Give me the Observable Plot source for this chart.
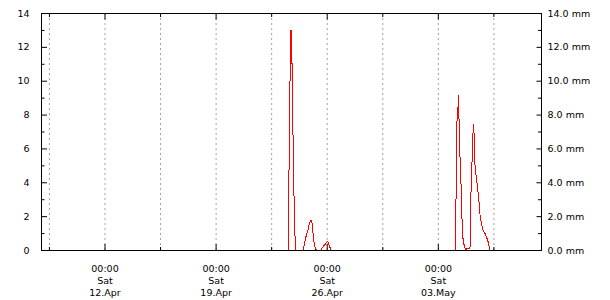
<!DOCTYPE html>
<html><head><meta charset="utf-8">
<script src="https://cdn.jsdelivr.net/npm/d3@7"></script>
<script src="https://cdn.jsdelivr.net/npm/@observablehq/plot@0.6"></script>
<style>html,body{margin:0;padding:0;background:#fff} svg{display:block}</style>
</head><body><div id="chart"></div>
<script>
// rain time series (UTC); null breaks the line
const times = [
  "2025-04-23T12:00Z","2025-04-23T13:00Z","2025-04-23T13:30Z","2025-04-23T14:45Z","2025-04-23T16:00Z",
  "2025-04-23T17:15Z","2025-04-23T18:15Z","2025-04-23T19:00Z","2025-04-23T19:45Z","2025-04-23T21:00Z",
  "2025-04-23T22:30Z","2025-04-24T00:00Z","2025-04-24T01:00Z","2025-04-24T11:45Z",
  "2025-04-24T14:15Z","2025-04-24T16:45Z","2025-04-24T19:15Z","2025-04-24T20:45Z","2025-04-24T22:45Z",
  "2025-04-25T00:20Z","2025-04-25T01:50Z","2025-04-25T02:50Z","2025-04-25T04:20Z","2025-04-25T05:50Z",
  "2025-04-25T07:55Z","2025-04-25T14:00Z",
  "2025-04-25T18:00Z","2025-04-25T21:30Z","2025-04-26T00:30Z","2025-04-26T02:30Z","2025-04-26T06:00Z",
  "2025-04-30T00:00Z",
  "2025-05-04T02:15Z","2025-05-04T02:30Z","2025-05-04T03:00Z","2025-05-04T03:45Z","2025-05-04T05:30Z",
  "2025-05-04T06:00Z","2025-05-04T06:45Z","2025-05-04T07:30Z","2025-05-04T08:20Z","2025-05-04T10:20Z",
  "2025-05-04T11:50Z","2025-05-04T13:20Z","2025-05-04T14:50Z","2025-05-04T16:50Z","2025-05-04T19:00Z",
  "2025-05-04T23:50Z",
  "2025-05-05T00:30Z","2025-05-05T01:00Z","2025-05-05T02:30Z","2025-05-05T04:00Z","2025-05-05T05:00Z",
  "2025-05-05T06:00Z","2025-05-05T07:30Z","2025-05-05T10:05Z","2025-05-05T12:35Z","2025-05-05T15:05Z",
  "2025-05-05T17:40Z","2025-05-05T20:10Z","2025-05-05T22:40Z","2025-05-06T00:10Z","2025-05-06T02:10Z",
  "2025-05-06T03:45Z","2025-05-06T05:15Z","2025-05-06T06:15Z"
];
const rain = [
  0, 0, 2.1, 6.5, 10.9,
  13.0, 11.4, 10.9, 8.2, 5.0,
  1.7, 0.2, 0, 0,
  0.55, 0.95, 1.25, 1.55, 1.8,
  1.8, 1.45, 0.85, 0.45, 0.15,
  0, 0,
  0.25, 0.4, 0.55, 0.35, 0,
  null,
  0, 1.5, 4.5, 7.6, 7.7,
  9.15, 8.1, 7.6, 6.0, 3.9,
  1.85, 0.7, 0.35, 0.05, 0.1,
  0.1,
  1.0, 2.9, 4.7, 6.5, 7.45,
  6.9, 5.0, 4.1, 3.3, 2.1,
  1.5, 1.14, 1.0, 0.85, 0.65,
  0.45, 0.16, 0
];
const xDomain = ["2025-04-08T00:00Z", "2025-05-09T12:00Z"];
const gridTimes = ["2025-04-08T12:00Z","2025-04-12T00:00Z","2025-04-15T12:00Z","2025-04-19T00:00Z",
  "2025-04-22T12:00Z","2025-04-26T00:00Z","2025-04-29T12:00Z","2025-05-03T00:00Z","2025-05-06T12:00Z"];
const labelTimes = ["2025-04-12T00:00Z","2025-04-19T00:00Z","2025-04-26T00:00Z","2025-05-03T00:00Z"];
const minorTimes = ["2025-04-08T12:00Z","2025-04-15T12:00Z","2025-04-22T12:00Z","2025-04-29T12:00Z","2025-05-06T12:00Z"];
const yMajor = [0, 2, 4, 6, 8, 10, 12, 14];
const yMinor = [1, 3, 5, 7, 9, 11, 13];
const unit = "mm";

const W = 610, H = 300, mL = 41, mR = 69, mT = 13, mB = 50;
const pw = W - mL - mR, ph = H - mT - mB;
const D = s => new Date(s);
const data = times.map((t, i) => ({t: D(t), v: rain[i]}));
const fmtX = d3.utcFormat("%H:%M\n%a\n%d.%b");

const chart = Plot.plot({
  width: W, height: H,
  marginLeft: mL, marginRight: mR, marginTop: mT, marginBottom: mB,
  style: {fontFamily: "DejaVu Sans", fontSize: "9.5px", color: "#000", background: "#fff"},
  x: {type: "utc", domain: xDomain.map(D), label: null},
  y: {domain: [0, 14], label: null},
  marks: [
    Plot.ruleX(gridTimes.map(D), {stroke: "#a0a0a0", strokeDasharray: "2,3", strokeWidth: 1}),
    Plot.line(data, {x: "t", y: "v", stroke: "#ff0000", strokeWidth: 1, curve: "linear", shapeRendering: "crispEdges"}),
    Plot.frame({stroke: "#000", strokeWidth: 1}),
    // left ticks (inward)
    Plot.tickY(yMajor, {y: d => d, insetRight: pw - 6, stroke: "#000"}),
    Plot.tickY(yMinor, {y: d => d, insetRight: pw - 3.5, stroke: "#000"}),
    // right ticks (inward)
    Plot.tickY(yMajor, {y: d => d, insetLeft: pw - 4.5, stroke: "#000"}),
    Plot.tickY(yMinor, {y: d => d, insetLeft: pw - 3, stroke: "#000"}),
    // bottom ticks
    Plot.tickX(labelTimes.map(D), {x: d => d, insetTop: ph - 6, stroke: "#000"}),
    Plot.tickX(minorTimes.map(D), {x: d => d, insetTop: ph - 3, stroke: "#000"}),
    // top ticks
    Plot.tickX(labelTimes.map(D), {x: d => d, insetBottom: ph - 6.5, stroke: "#000"}),
    Plot.tickX(minorTimes.map(D), {x: d => d, insetBottom: ph - 4, stroke: "#000"}),
    Plot.axisY(yMajor, {anchor: "left", tickSize: 0, tickPadding: 12, tickFormat: d => String(d)}),
    Plot.axisY(yMajor, {anchor: "right", tickSize: 0, tickPadding: 6, tickFormat: d => d.toFixed(1) + " " + unit}),
    Plot.axisX(labelTimes.map(D), {anchor: "bottom", tickSize: 0, tickPadding: 13, lineHeight: 1.25, tickFormat: fmtX})
  ]
});
document.getElementById("chart").append(chart);
</script>
</body></html>
